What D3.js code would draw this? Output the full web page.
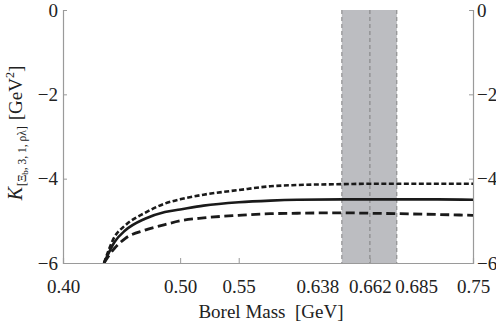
<!DOCTYPE html>
<meta charset="utf-8">
<style>
  body { margin: 0; background: #fff; }
  svg text { font-family: "Liberation Serif", "Times New Roman", serif; }
</style>
<svg width="496" height="322"></svg>
<script src="https://d3js.org/d3.v7.min.js"></script>
<script>

var fontFamily = "'Liberation Serif', 'Times New Roman', serif";

var svg = d3.select("svg"),
    margin = {left: 63, right: 23, top: 10, bottom: 59},
    width = 496 - margin.left - margin.right,
    height = 322 - margin.top - margin.bottom;

// Borel mass grid and the three curves
var borelMass = [0.435, 0.444, 0.453, 0.470, 0.487, 0.500, 0.520, 0.550, 0.577, 0.600, 0.638, 0.662, 0.685, 0.720, 0.750];
var upperK    = [-6.00, -5.38, -5.11, -4.81, -4.59, -4.49, -4.38, -4.27, -4.18, -4.15, -4.13, -4.12, -4.12, -4.12, -4.12];
var centralK  = [-6.00, -5.50, -5.23, -4.95, -4.79, -4.73, -4.64, -4.56, -4.52, -4.50, -4.49, -4.49, -4.49, -4.49, -4.50];
var lowerK    = [-6.00, -5.65, -5.42, -5.22, -5.09, -5.00, -4.93, -4.87, -4.83, -4.82, -4.81, -4.82, -4.83, -4.85, -4.87];

var xTicks = [0.40, 0.50, 0.55, 0.638, 0.662, 0.685, 0.75];
var yTicks = [0, -2, -4, -6];
var window_ = [0.638, 0.685], windowMid = 0.662;

var x = d3.scaleLinear().domain([0.40, 0.75]).range([0, width]);
var y = d3.scaleLinear().domain([-6, 0]).range([height, 0]);

var g = svg.append("g").attr("transform", "translate(" + margin.left + "," + margin.top + ")");

g.append("clipPath").attr("id", "clip")
  .append("rect").attr("width", width).attr("height", height);

// working window
g.append("rect")
  .attr("x", x(window_[0]))
  .attr("width", x(window_[1]) - x(window_[0]))
  .attr("y", 0)
  .attr("height", height)
  .attr("fill", "#bcbdc1");

[window_[0], windowMid, window_[1]].forEach(function (d) {
  g.append("line")
    .attr("x1", x(d)).attr("x2", x(d))
    .attr("y1", 0).attr("y2", height)
    .attr("stroke", "#6f6f6f")
    .attr("stroke-width", 0.8)
    .attr("stroke-dasharray", "4,3");
});

// axes
var axisColor = "#9a9a9a";

var xAxis = g.append("g").attr("transform", "translate(0," + height + ")")
  .call(d3.axisBottom(x).tickValues(xTicks).tickSize(-5).tickPadding(17)
    .tickFormat(function (d) { return d === 0.638 || d === 0.662 || d === 0.685 ? d3.format(".3f")(d) : d3.format(".2f")(d); }));

var yLeft = g.append("g")
  .call(d3.axisLeft(y).tickValues(yTicks).tickSize(-4).tickPadding(5).tickFormat(d3.format("d")));

var yRight = g.append("g").attr("transform", "translate(" + width + ",0)")
  .call(d3.axisRight(y).tickValues(yTicks).tickSize(-4).tickPadding(4).tickFormat(d3.format("d")));

[xAxis, yLeft, yRight].forEach(function (a) {
  a.attr("font-family", fontFamily).attr("font-size", 19);
  a.select(".domain").attr("stroke", axisColor).attr("stroke-width", 1.2);
  a.selectAll(".tick line").attr("stroke", axisColor);
  a.selectAll(".tick text")
    .style("font-family", fontFamily)
    .style("font-size", "19px")
    .attr("fill", "#222");
});
// ends sit on the frame, window ticks sit under the dashed lines
xAxis.selectAll(".tick line").filter(function (d) { return d === 0.40 || d === 0.75 || d === 0.638 || d === 0.685; }).remove();
// window edge labels are pushed aside so they do not collide with 0.662
xAxis.selectAll(".tick text")
  .attr("text-anchor", function (d) { return d === 0.638 ? "end" : d === 0.685 ? "start" : "middle"; })
  .attr("dx", function (d) { return d === 0.638 ? -3 : d === 0.685 ? -2 : 0; });

// curves
var line = d3.line()
  .x(function (d) { return x(d[0]); })
  .y(function (d) { return y(d[1]); })
  .curve(d3.curveMonotoneX);

var series = [
  {values: upperK,   dash: "5,2.5", width: 2.6},
  {values: centralK, dash: null,    width: 2.6},
  {values: lowerK,   dash: "9,4.5", width: 2.8}
];

var plot = g.append("g").attr("clip-path", "url(#clip)");
series.forEach(function (s) {
  plot.append("path")
    .datum(borelMass.map(function (m, i) { return [m, s.values[i]]; }))
    .attr("d", line)
    .attr("fill", "none")
    .attr("stroke", "#1a1a1a")
    .attr("stroke-width", s.width)
    .attr("stroke-dasharray", s.dash);
});

// axis titles
svg.append("text")
  .attr("x", margin.left + width / 2 + 3)
  .attr("y", 318)
  .attr("text-anchor", "middle")
  .attr("fill", "#222")
  .style("font-family", fontFamily)
  .style("font-size", "19px")
  .style("white-space", "pre")
  .text("Borel Mass  [GeV]");

var yt = svg.append("text")
  .attr("transform", "translate(22,133) rotate(-90)")
  .attr("text-anchor", "middle")
  .attr("fill", "#222")
  .style("font-family", fontFamily)
  .style("font-size", "19px");
yt.append("tspan").style("font-style", "italic").style("font-size", "20px").text("K");
yt.append("tspan").style("font-size", "11.5px").attr("dy", 4).attr("dx", 1).text("[Ξ");
yt.append("tspan").style("font-size", "9px").attr("dy", 2).text("b");
yt.append("tspan").style("font-size", "11.5px").attr("dy", -2).text(", 3, 1, ρλ]");
yt.append("tspan").style("font-size", "19px").attr("dy", -4).attr("dx", 6).text("[GeV");
yt.append("tspan").style("font-size", "12px").attr("dy", -8).text("2");
yt.append("tspan").style("font-size", "19px").attr("dy", 8).text("]");

</script>
